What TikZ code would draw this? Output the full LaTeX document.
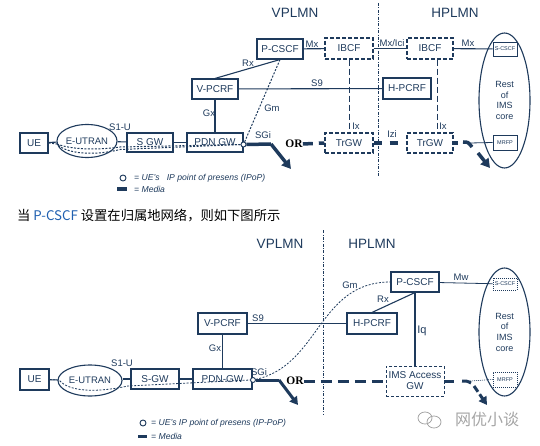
\documentclass[tikz,border=0pt]{standalone}
\usepackage{fontspec}
\setmainfont{Liberation Sans}
\newfontfamily\cjk{Noto Sans CJK SC}
\newfontfamily\orfont{Liberation Serif}
\usetikzlibrary{shapes.geometric,arrows.meta,positioning}
\definecolor{nv}{RGB}{30,58,92}
\definecolor{lk}{RGB}{32,96,176}
\definecolor{wm}{RGB}{165,165,165}
\tikzset{
  box/.style={draw=nv,line width=1.1pt,inner sep=0pt,text=nv,font=\fontsize{10}{11}\selectfont},
  dbox/.style={box,dash pattern=on 4pt off 2pt,line width=1.4pt},
  sbox/.style={draw=nv,line width=0.9pt,inner sep=0pt,text=nv,font=\fontsize{5.5}{6}\selectfont,minimum width=24,minimum height=14},
  lbl/.style={text=nv,font=\fontsize{9.5}{10}\selectfont,inner sep=0pt},
  lnk/.style={draw=nv,line width=1.1pt},
  med/.style={draw=nv,line width=3.5pt},
  sig/.style={draw=nv,line width=1pt,dash pattern=on 2pt off 1.5pt},
  bdr/.style={draw=nv,line width=0.8pt,dash pattern=on 3pt off 1.5pt on 0.8pt off 1.5pt},
  ipp/.style={circle,draw=nv,line width=0.9pt,fill=white,minimum size=5,inner sep=0pt},
  orl/.style={font=\orfont\bfseries\fontsize{11.5}{12}\selectfont,inner sep=0pt},
  net/.style={text=nv,font=\fontsize{13.5}{14}\selectfont,inner sep=0pt},
  leg/.style={text=nv,font=\itshape\fontsize{8.6}{9}\selectfont,inner sep=0pt,anchor=west}
}
\begin{document}
\begin{tikzpicture}[x=1pt,y=-1pt]
\useasboundingbox (0,0) rectangle (540,446);
% ---- P-CSCF in the visited network
\draw[bdr] (378,3) -- (378,177);
\node[net] (vp1) at (295,13) {VPLMN};
\node[net] (hp1) at (455,13) {HPLMN};
\node[box,minimum width=28,minimum height=20] (ue1) at (34,143) {UE};
\node[box,ellipse,minimum width=60,minimum height=33,font=\fontsize{9.5}{10}\selectfont] (eutran1) at (87,141) {E-UTRAN};
\node[box,minimum width=46,minimum height=19] (sgw1) at (150,142.5) {S GW};
\node[box,minimum width=56,minimum height=19] (pdn1) at (215,142.5) {PDN GW};
\node[box,minimum width=46,minimum height=20] (vpcrf1) at (215,89) {V-PCRF};
\node[box,minimum width=46,minimum height=20] (pcscf1) at (280,49) {P-CSCF};
\node[dbox,minimum width=48,minimum height=21] (ibcfv) at (349,48.5) {IBCF};
\node[dbox,minimum width=46,minimum height=21] (ibcfh) at (430,48.5) {IBCF};
\node[box,minimum width=48,minimum height=21] (hpcrf1) at (407,88.5) {H-PCRF};
\node[dbox,minimum width=48,minimum height=20] (trgwv) at (349,143) {TrGW};
\node[dbox,minimum width=46,minimum height=20] (trgwh) at (430,143) {TrGW};
\node[box,ellipse,minimum width=51,minimum height=135,align=center,font=\fontsize{9}{10.7}\selectfont] (ims1) at (504.5,100.5) {Rest\\of\\IMS\\core};
\node[sbox,fill=white] (scscf1) at (505,49) {S-CSCF};
\node[sbox,fill=white,minimum height=15] (mrfp1) at (505,142.5) {MRFP};
\node[ipp] (ip1) at (243.5,144.5) {};
\node[orl] (or1) at (294,144) {OR};
% links
\draw[lnk] (ue1) -- (eutran1);
\draw[lnk] (eutran1) -- (sgw1);
\draw[lnk] (sgw1) -- (pdn1);
\draw[lnk] (vpcrf1) -- (pdn1);
\draw[lnk] (vpcrf1.north) -- (pcscf1.south);
\draw[lnk] (vpcrf1) -- (hpcrf1);
\draw[lnk] (pcscf1) -- (ibcfv);
\draw[lnk] (ibcfv) -- (ibcfh);
\draw[lnk] (ibcfh) -- (scscf1);
\draw[lnk,line width=0.9pt,dash pattern=on 6pt off 3pt] (ibcfv) -- (trgwv);
\draw[lnk,line width=0.9pt,dash pattern=on 6pt off 3pt] ([xshift=7]ibcfh.south) -- ([xshift=7]trgwh.north);
\draw[sig] (ip1) -- (pcscf1.south);
\draw[sig] (ue1.east) -- (57,144) .. controls (66,154) and (95,156) .. (120,149.5) -- (ip1.west);
\draw[sig] (57,144) .. controls (72,150) and (100,150) .. (120,147) -- (ip1.west);
% media
\coordinate (bend1) at (271,144);
\coordinate (tip1) at (291,169);
\draw[med,line join=round] (ip1.east) -- (bend1);
\draw[med,-{Triangle[length=9pt,width=10pt]}] (bend1) -- (tip1);
\draw[med,dash pattern=on 10pt off 6pt] (or1.east) -- (trgwv.west);
\draw[med,dash pattern=on 8pt off 8pt] (trgwv.east) -- (trgwh.west);
\coordinate (hk1) at (463,142);
\coordinate (hk2) at (472,147);
\draw[med] (trgwh.east) -- ++(4,0);
\draw[med] (hk1) .. controls (468,142) .. (hk2);
\draw[lnk,line width=0.8pt] (470,143) -- (mrfp1.west);
\draw[med,-{Triangle[length=9pt,width=10pt]}] (478,153) -- (490,168);
% labels
\node[lbl] at (120,127) {S1-U};
\node[lbl] at (209,113) {Gx};
\node[lbl] at (248,63) {Rx};
\node[lbl] at (272,108) {Gm};
\node[lbl] at (263,135) {SGi};
\node[lbl] at (312,44) {Mx};
\node[lbl] at (392,43) {Mx/Ici};
\node[lbl] at (468,43) {Mx};
\node[lbl] at (317,83) {S9};
\node[lbl] at (356,126) {Ix};
\node[lbl] at (443,126) {Ix};
\node[lbl] at (392,134) {Izi};
% legend
\node[ipp,minimum size=6] (lc1) at (123,178) {};
\node[leg] at (134,178) {= UE's\ \ \ IP point of presens (IPoP)};
\draw[med] (117,189) -- (127,189);
\node[leg] at (134,189) {= Media};
% ---- caption
\node[anchor=west,inner sep=0pt,font=\cjk\fontsize{13.3}{14}\selectfont] (cap) at (17,216) {当 \textcolor{lk}{P-CSCF} 设置在归属地网络，则如下图所示};
% ---- P-CSCF in the home network
\draw[bdr] (323,230) -- (323,415);
\node[net] (vp2) at (280,244) {VPLMN};
\node[net] (hp2) at (372,244) {HPLMN};
\node[box,minimum width=29,minimum height=21] (ue2) at (34.5,379.5) {UE};
\node[box,ellipse,minimum width=64,minimum height=31,font=\fontsize{9.5}{10}\selectfont] (eutran2) at (90,380.5) {E-UTRAN};
\node[box,minimum width=48,minimum height=20] (sgw2) at (155,379) {S-GW};
\node[box,minimum width=59,minimum height=20] (pdn2) at (222.5,379) {PDN-GW};
\node[box,minimum width=49,minimum height=21] (vpcrf2) at (222.5,323.5) {V-PCRF};
\node[box,minimum width=50,minimum height=21] (hpcrf2) at (372,323.5) {H-PCRF};
\node[box,minimum width=48,minimum height=20] (pcscf2) at (415,282) {P-CSCF};
\node[box,dash pattern=on 3pt off 2pt,line width=0.9pt,minimum width=58,minimum height=30,align=center,font=\fontsize{10}{11}\selectfont] (imsgw2) at (415,381) {IMS Access\\GW};
\node[box,ellipse,minimum width=51,minimum height=128,align=center,font=\fontsize{9}{10.7}\selectfont] (ims2) at (504.5,332) {Rest\\of\\IMS\\core};
\node[sbox,fill=white,dash pattern=on 1pt off 1pt,minimum height=12] (scscf2) at (505,284) {S-CSCF};
\node[sbox,fill=white,dash pattern=on 1pt off 1pt,minimum height=15] (mrfp2) at (505,379.5) {MRFP};
\node[ipp] (ip2) at (253,380) {};
\node[orl] (or2) at (295,381) {OR};
% links
\draw[lnk] (ue2) -- (eutran2);
\draw[lnk] (eutran2.east |- sgw2) -- (sgw2);
\draw[lnk] (sgw2) -- (pdn2);
\draw[lnk] (vpcrf2) -- (pdn2);
\draw[lnk] (vpcrf2) -- (hpcrf2);
\draw[lnk] (hpcrf2.north) -- (pcscf2.south);
\draw[lnk] (pcscf2.south) -- (imsgw2.north);
\draw[lnk,line width=0.8pt] (pcscf2) -- (scscf2);
\draw[sig,line width=0.8pt] (ip2) .. controls (320,365) and (318,282) .. (pcscf2.west);
\draw[sig,line width=0.8pt] (ue2.east) -- (59,380) .. controls (70,393) and (100,392) .. (128,386) -- (ip2.west);
% media
\coordinate (bend2) at (279,380);
\coordinate (tip2) at (298,405);
\draw[med,line width=3pt,line join=round] (ip2.east) -- (bend2);
\draw[med,line width=3pt,-{Triangle[length=8pt,width=9pt]}] (bend2) -- (tip2);
\draw[med,line width=3pt,dash pattern=on 11pt off 6pt] (or2.east) -- (imsgw2.west);
\coordinate (hk3) at (462,381);
\coordinate (hk4) at (471,383);
\draw[med,line width=3pt] (imsgw2.east) -- ++(10,0);
\draw[med,line width=3pt] (hk3) .. controls (467,381) .. (hk4);
\draw[sig,line width=0.6pt,dash pattern=on 1pt off 1pt] (470,381) -- (mrfp2.west);
\draw[med,line width=3pt,dash pattern=on 7pt off 3pt,-{Triangle[length=8pt,width=9pt]}] (474,386) -- (487,405);
% labels
\node[lbl] at (350,285) {Gm};
\node[lbl] at (461,277) {Mw};
\node[lbl] at (383,299) {Rx};
\node[lbl] at (258,318) {S9};
\node[lbl,font=\fontsize{11}{12}\selectfont] at (422,331) {Iq};
\node[lbl] at (215,348) {Gx};
\node[lbl] at (122,363) {S1-U};
\node[lbl] at (259,372) {SGi};
% legend
\node[ipp,minimum size=6] (lc2) at (143,423) {};
\node[leg] at (151,423) {= UE's IP point of presens (IP-PoP)};
\draw[med,line width=3pt] (138,436) -- (147,436);
\node[leg] at (151,436) {= Media};
% ---- watermark
\draw[wm,line width=0.8pt] (425,418) ellipse (7 and 6);
\draw[wm,line width=0.8pt] (434,422) ellipse (7 and 6);
\node[text=wm,inner sep=0pt,font=\cjk\fontsize{16}{17}\selectfont] (wmk) at (487,419) {网优小谈};
\end{tikzpicture}
\end{document}
